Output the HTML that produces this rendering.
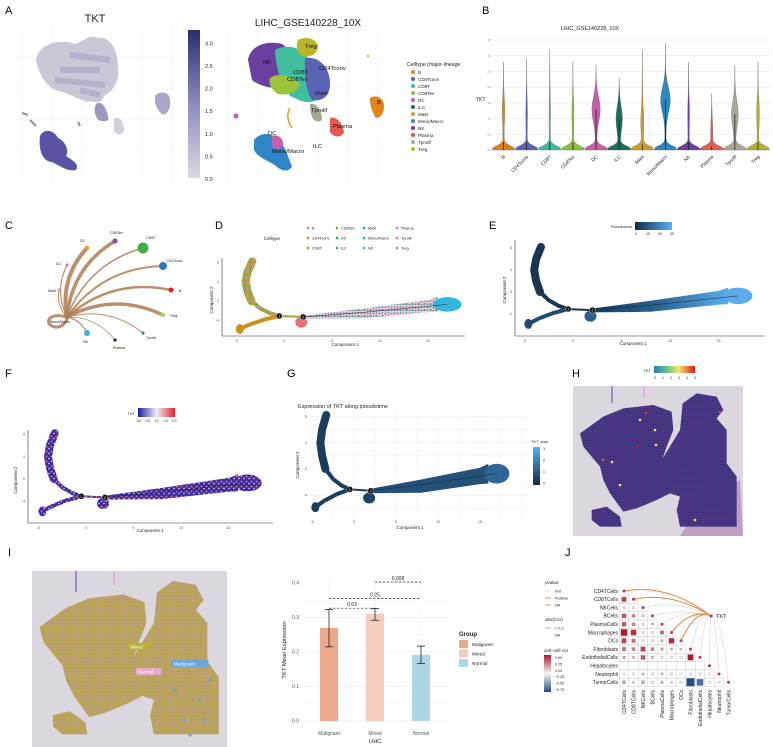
<!DOCTYPE html>
<html><head><meta charset="utf-8"><style>
html,body{margin:0;padding:0;background:#fff;}
svg{display:block;font-family:"Liberation Sans",sans-serif;}
</style></head><body>
<svg id="fig" width="773" height="747" viewBox="0 0 773 747" xmlns="http://www.w3.org/2000/svg">
<defs>
<linearGradient id="gA" x1="0" y1="1" x2="0" y2="0"><stop offset="0" stop-color="#d9d9e0"/><stop offset="0.5" stop-color="#8f8bc0"/><stop offset="1" stop-color="#2b2d6e"/></linearGradient>
<linearGradient id="gE" x1="0" x2="1"><stop offset="0" stop-color="#132b43"/><stop offset="1" stop-color="#56b1f7"/></linearGradient>
<linearGradient id="gF" x1="0" x2="1"><stop offset="0" stop-color="#1a1aa0"/><stop offset="0.5" stop-color="#eeeef5"/><stop offset="1" stop-color="#e0202a"/></linearGradient>
<linearGradient id="gG" x1="0" y1="1" x2="0" y2="0"><stop offset="0" stop-color="#132b43"/><stop offset="1" stop-color="#56b1f7"/></linearGradient>
<linearGradient id="gH" x1="0" x2="1"><stop offset="0" stop-color="#2c7bb6"/><stop offset="0.3" stop-color="#5fc08f"/><stop offset="0.6" stop-color="#f5e66b"/><stop offset="1" stop-color="#d7191c"/></linearGradient>
<linearGradient id="gJ" x1="0" y1="1" x2="0" y2="0"><stop offset="0" stop-color="#1f4f8a"/><stop offset="0.5" stop-color="#f7f7f7"/><stop offset="1" stop-color="#b2182b"/></linearGradient>
<linearGradient id="gEtraj" x1="0" x2="1"><stop offset="0" stop-color="#173a5a"/><stop offset="0.5" stop-color="#2a6597"/><stop offset="1" stop-color="#5aacec"/></linearGradient>
<pattern id="pD" width="6" height="6" patternUnits="userSpaceOnUse"><rect width="6" height="6" fill="#b7a433"/><circle cx="1.5" cy="1.5" r="1.2" fill="#e87ab4"/><circle cx="4.5" cy="4" r="1.1" fill="#4bb54a"/><circle cx="4.5" cy="1" r="0.9" fill="#5c9bd5"/><circle cx="1.5" cy="4.5" r="1" fill="#d98b2a"/></pattern>
<pattern id="pDarm" width="6" height="6" patternUnits="userSpaceOnUse"><rect width="6" height="6" fill="#e9e0ea"/><circle cx="1.5" cy="1.5" r="1.3" fill="#e87ab4"/><circle cx="4.5" cy="4" r="1.3" fill="#4bb54a"/><circle cx="4.5" cy="1" r="1" fill="#5c9bd5"/><circle cx="1.5" cy="4.5" r="1" fill="#9a6ac0"/></pattern>
<pattern id="pF" width="5" height="5" patternUnits="userSpaceOnUse"><rect width="5" height="5" fill="#3a2aa0"/><circle cx="1.5" cy="1.5" r="1" fill="#e8707a"/><circle cx="4" cy="3.5" r="0.9" fill="#c9c3e6"/></pattern>
<pattern id="pH" width="8" height="8" patternUnits="userSpaceOnUse"><rect width="8" height="8" fill="#4a2f84"/><circle cx="2" cy="2" r="1.3" fill="#3e2a78"/><circle cx="6" cy="6" r="1.3" fill="#3e2a78"/><circle cx="6" cy="2" r="1.1" fill="#3cb878"/></pattern>
<pattern id="pI" width="4.5" height="4.5" patternUnits="userSpaceOnUse"><rect width="4.5" height="4.5" fill="#d79cc8"/><circle cx="2.25" cy="2.25" r="1.6" fill="#a9a62a"/></pattern>
<pattern id="pIb" width="9" height="9" patternUnits="userSpaceOnUse"><rect width="9" height="9" fill="#a9a62a"/><circle cx="2" cy="2" r="1.5" fill="#d79cc8"/><circle cx="6.5" cy="6.5" r="1.5" fill="#a9a62a"/></pattern>
<path id="tissue" d="M30,160 L100,110 L160,85 L250,75 L305,95 L310,150 L290,200 L278,235 L330,150 L338,70 L380,40 L440,50 L460,90 L440,115 L470,150 L470,250 L500,290 L500,440 L330,440 L320,390 L330,350 L300,340 L260,360 L200,385 L160,395 L120,340 L100,300 L90,260 L40,200 Z M65,390 L110,380 L150,410 L155,440 L90,440 L65,420 Z"/>
</defs>
<g id="root"></g>
</svg>
<script>
const NS="http://www.w3.org/2000/svg";
const root=document.getElementById('root');
function el(tag,attrs,parent,txt){const e=document.createElementNS(NS,tag);for(const k in attrs)e.setAttribute(k,attrs[k]);if(txt!==undefined)e.textContent=txt;(parent||root).appendChild(e);return e;}
function txt(x,y,s,size,parent,extra){const a={x:x,y:y,'font-size':size,fill:'#222'};if(extra)for(const k in extra)a[k]=extra[k];return el('text',a,parent,s);}

/* ===== panel letters ===== */
const letters=[["A",5,14],["B",482,14],["C",5,229],["D",215,229],["E",489,229],["F",5,377],["G",287,377],["H",572,377],["I",8,556],["J",565,556]];
letters.forEach(l=>{const t=txt(l[1],l[2],l[0],11,root,{fill:'#000'});

});

/* ===== Panel A ===== */
const gA=el('g',{});

for(let i=0;i<6;i++){el('line',{x1:22+i*30,y1:30,x2:22+i*30,y2:178,stroke:'#eee','stroke-width':0.6},gA);el('line',{x1:228+i*30,y1:32,x2:228+i*30,y2:178,stroke:'#eee','stroke-width':0.6},gA);}
for(let i=0;i<4;i++){el('line',{x1:12,y1:57+i*31,x2:175,y2:57+i*31,stroke:'#eee','stroke-width':0.6},gA);el('line',{x1:225,y1:59+i*29,x2:390,y2:59+i*29,stroke:'#eee','stroke-width':0.6},gA);}
txt(95,22,"TKT",11,gA,{'text-anchor':'middle'});
el('path',{d:'M36,60 C38,44 60,38 75,44 C86,40 90,34 98,38 C110,36 118,50 118,68 C120,82 112,92 104,96 C100,106 96,100 88,102 C80,100 70,94 62,92 C50,90 40,80 36,60 Z',fill:'#c9c8d6'},gA);
el('path',{d:'M60,70 L100,70 M55,80 L105,85 M70,55 L110,60 M80,90 L100,95',stroke:'#8a86b8','stroke-width':6,opacity:0.35},gA);
el('path',{d:'M155,96 C160,90 170,92 170,100 C171,110 166,116 162,114 C157,110 154,104 155,96 Z',fill:'#a9a6c8'},gA);
el('path',{d:'M96,104 C102,100 106,108 108,116 C110,122 104,122 98,120 C94,114 94,108 96,104 Z',fill:'#9b98c4'},gA);
el('path',{d:'M114,118 C120,116 124,122 124,130 C122,136 116,136 114,130 Z',fill:'#d0d0d8'},gA);
el('path',{d:'M40,136 C44,128 54,130 58,138 C64,140 70,150 66,156 C72,160 80,164 76,170 C68,172 60,166 52,162 C44,162 38,152 40,136 Z',fill:'#5a52a6'},gA);
el('path',{d:'M22,113 L28,115 M30,120 L36,126 M78,122 L80,126',stroke:'#8f8bc0','stroke-width':2},gA);
el('rect',{x:188,y:30,width:12,height:148,fill:'url(#gA)'},gA);
["0.0","0.5","1.0","1.5","2.0","2.5","3.0"].forEach((s,i)=>txt(205,181-i*22.6,s,5.5,gA));
txt(308,26,"LIHC_GSE140228_10X",10,gA,{'text-anchor':'middle'});
const umapBlobs=[["#6a3fa0","M248,60 C250,46 266,40 282,44 C292,50 290,70 288,86 C280,90 262,88 252,80 Z"],["#3fbfa0","M275,50 C290,42 305,50 310,62 C320,70 322,88 316,100 C306,106 296,98 290,96 C282,86 276,70 275,50 Z"],["#5a62b4","M305,58 C318,56 330,66 330,84 C330,96 322,102 312,100 C306,92 304,74 305,58 Z"],["#b8b52a","M298,40 C305,36 316,38 318,46 C318,54 310,58 302,56 C296,52 296,46 298,40 Z"],["#9cc43a","M270,78 C278,72 292,76 300,84 C298,92 288,96 278,94 C272,90 268,84 270,78 Z"],["#a8a898","M310,104 C316,102 322,110 322,120 C316,124 310,120 310,104 Z"],["#e2564c","M330,118 C336,116 342,122 344,132 C342,138 334,138 330,132 Z"],["#e0861a","M370,98 C376,94 384,98 384,106 C384,114 380,118 376,118 C372,112 370,106 370,98 Z"],["#2f86c6","M254,140 C260,132 272,132 278,140 C286,146 288,158 292,166 C290,172 282,172 276,166 C268,160 258,158 254,150 Z"],["#c65fb0","M272,136 C278,134 284,138 283,146 C280,150 274,150 272,146 Z"]];
umapBlobs.forEach(b=>el('path',{d:b[1],fill:b[0]},gA));
el('path',{d:'M290,108 C286,114 288,122 292,128',stroke:'#e0a020','stroke-width':1.5,fill:'none'},gA);
el('circle',{cx:236,cy:116,r:2.5,fill:'#c65fb0'},gA);el('circle',{cx:368,cy:56,r:1,fill:'#e0861a'},gA);
[["Treg",305,48],["NK",263,64],["CD4Tconv",319,70],["CD8T",293,74],["CD8Tex",287,81],["Mast",315,95],["Tprolif",311,112],["Plasma",333,128],["B",377,104],["DC",268,135],["ILC",313,148],["Mono/Macro",272,153]].forEach(l=>txt(l[1],l[2],l[0],5.8,gA,{fill:'#111'}));
txt(407,66,"Celltype (major-lineage",5.2,gA);
const legA=[["B","#e0861a"],["CD4Tconv","#5a62b4"],["CD8T","#3fbfa0"],["CD8Tex","#8cc43a"],["DC","#c65fb0"],["ILC","#1e6e5e"],["Mast","#d4a020"],["Mono/Macro","#2f86c6"],["NK","#6a3fa0"],["Plasma","#e2564c"],["Tprolif","#a8a898"],["Treg","#b8b52a"]];
legA.forEach((l,i)=>{el('circle',{cx:413,cy:72+i*7,r:2,fill:l[1]},gA);txt(418,74+i*7,l[0],4.6,gA);});

/* ===== Panel B violin ===== */
const vCats=["B","CD4Tconv","CD8T","CD8Tex","DC","ILC","Mast","Mono/Macro","NK","Plasma","Tprolif","Treg"];
const vMax=[2.8,2.9,3.2,2.8,2.7,2.3,3.2,3.4,2.8,1.8,2.7,2.8];
const vMidC=[1.3,1.2,1.3,1.2,1.3,1.0,0.9,1.6,1.2,0.6,1.15,1.2];
const vMidW=[0.8,0.4,0.3,0.6,3.8,2.8,1.0,4.5,0.5,0.6,3.0,1.0];
const vColors=["#d9821a","#5b62b0","#3fb8a0","#8bbf3f","#c85fad","#1e6e5e","#c9a027","#2b87c0","#6b3fa0","#e05f55","#a8a898","#b5b12a"];
const gB=el('g',{});

const bx0=493,bx1=770,vy=v=>150-v*31.4,vx=i=>503.5+i*(254.5/11);
for(let t=0;t<=7;t++){el('line',{x1:bx0,y1:vy(t*0.5),x2:bx1,y2:vy(t*0.5),stroke:'#e6e6e6','stroke-width':0.6},gB);txt(bx0-2,vy(t*0.5)+1,(t*0.5).toFixed(1),2.5,gB,{'text-anchor':'end',fill:'#777'});}
txt(590,30,"LIHC_GSE140228_10X",5.5,gB,{'text-anchor':'middle'});
txt(476,101,"TKT",5,gB);
vCats.forEach((c,i)=>{
 const cx=vx(i);let L=[],R=[];
 for(let k=0;k<=40;k++){const v=vMax[i]*k/40;
  let hw=11*Math.exp(-Math.pow((v-0.03)/0.14,2))+vMidW[i]*Math.exp(-Math.pow((v-vMidC[i])/0.55,2))+0.7*(1-k/40);
  L.push((cx-hw).toFixed(1)+','+vy(v).toFixed(1));R.unshift((cx+hw).toFixed(1)+','+vy(v).toFixed(1));}
 const p=el('path',{d:'M'+L.join(' L')+' L'+R.join(' L')+' Z',fill:vColors[i],stroke:'#555','stroke-width':0.3},gB);
 
 
 el('line',{x1:cx,y1:vy(0),x2:cx,y2:vy(vMidC[i]*(vMidW[i]>2?1:0.2)),stroke:'#222','stroke-width':0.8},gB);
 txt(cx+2,157,c,4.8,gB,{'text-anchor':'end',transform:'rotate(-45 '+(cx+2)+' 157)'});
});

/* ===== Panel C network ===== */
const gC=el('g',{});

const hub=[67,317];
const cNodes=[["DC",87,248,"#f39c12",2.2,4],["CD8Tex",115,241,"#8e44ad",2.5,3.5],["CD8T",143,248,"#3fae49",5.5,1.6],["CD4Tconv",163,266,"#2f78c4",4,2],["B",171,290,"#e02020",2.5,2.5],["Treg",163,315,"#a6d96a",2.2,3.5],["Tprolif",143,333,"#1b9e77",1.6,1],["Plasma",115,340,"#1a237e",1.6,0.8],["NK",87,333,"#4aa8e0",3,1.2],["Mast",59,290,"#c39bd3",1.6,1],["ILC",67,265,"#e377c2",1.6,1.2]];
el('path',{d:'M67,317 C50,312 44,322 52,326 C60,330 68,322 67,317',stroke:'#b07d50','stroke-width':3,fill:'none',opacity:0.85},gC);
cNodes.forEach(n=>{const mx=(hub[0]+n[1])/2,my=(hub[1]+n[2])/2;const dx=n[1]-hub[0],dy=n[2]-hub[1];
 el('path',{d:`M${hub[0]},${hub[1]} Q${mx+dy*0.25},${my-dx*0.25} ${n[1]},${n[2]}`,stroke:'#b07d50','stroke-width':n[5],fill:'none','stroke-linecap':'round',opacity:0.85},gC);});
cNodes.forEach(n=>{el('circle',{cx:n[1],cy:n[2],r:n[4],fill:n[3]},gC);});
[["DC",80,242],["CD8Tex",110,234],["CD8T",146,239],["CD4Tconv",166,262],["B",179,292],["Treg",170,317],["Tprolif",146,339],["Plasma",113,349],["NK",83,343],["Mast",48,292],["ILC",56,265],["Mono/Macro",50,323]].forEach(l=>txt(l[1],l[2],l[0],3.6,gC));

/* ===== trajectory helper ===== */
function traj(g,X,Y,fills,nodes){
 const P=(pts)=>pts.map(p=>X(p[0]).toFixed(1)+','+Y(p[1]).toFixed(1)).join(' L');
 el('path',{d:'M'+P([[-3.3,8.2],[-3.8,6],[-4,4],[-3.8,2],[-3.4,0]]),stroke:fills.up,'stroke-width':8,fill:'none','stroke-linecap':'round'},g);
 el('path',{d:'M'+P([[-3.4,0],[-2.5,-1.5],[-1.5,-2.5],[-0.5,-3.1]]),stroke:fills.up,'stroke-width':4,fill:'none','stroke-linecap':'round'},g);
 el('path',{d:'M'+P([[-0.5,-3.1],[-2,-3.8],[-3.5,-4.8],[-4.4,-5.6]]),stroke:fills.low,'stroke-width':4,fill:'none','stroke-linecap':'round'},g);
 el('ellipse',{cx:X(-4.6),cy:Y(-5.8),rx:4,ry:5,fill:fills.low},g);
 el('path',{d:'M'+P([[-0.5,-3.1],[2,-3.3]]),stroke:fills.up,'stroke-width':2,fill:'none'},g);
 el('ellipse',{cx:X(1.8),cy:Y(-4.4),rx:6,ry:5.5,fill:fills.lobe},g);
 el('path',{d:'M'+P([[2,-3.0],[8,-1.6],[15,0.2],[16,0.8],[16,-2.2],[15,-2.3],[8,-3.6],[2,-3.7]])+' Z',fill:fills.arm},g);
 el('ellipse',{cx:X(17),cy:Y(-0.7),rx:X(18.5)-X(17),ry:Y(-2.2)-Y(-0.7),fill:fills.end},g);
 el('path',{d:'M'+P([[2,-3.3],[8,-2.4],[17,-0.7]]),stroke:'#222','stroke-width':0.5,fill:'none'},g);
 [[-0.5,-3.1,"1"],[2,-3.3,"2"]].forEach(n=>{el('circle',{cx:X(n[0]),cy:Y(n[1]),r:3,fill:'#111',stroke:'#fff','stroke-width':0.4},g);txt(X(n[0]),Y(n[1])+1.5,n[2],3.5,g,{fill:'#fff','text-anchor':'middle'});});
}
function axes(g,X,Y,left,bottom,right,top,xl,yl){
 el('line',{x1:left,y1:bottom,x2:right,y2:bottom,stroke:'#333','stroke-width':0.6},g);
 el('line',{x1:left,y1:top,x2:left,y2:bottom,stroke:'#333','stroke-width':0.6},g);
 [-5,0,5,10,15].forEach(v=>txt(X(v),bottom+6,String(v),3.6,g,{'text-anchor':'middle',fill:'#555'}));
 [8,4,0,-4].forEach(v=>txt(left-3,Y(v)+1.2,String(v),3.6,g,{'text-anchor':'end',fill:'#555'}));
 txt(xl[0],xl[1],"Component 1",4.5,g,{'text-anchor':'middle'});
 txt(yl[0],yl[1],"Component 2",4.5,g,{'text-anchor':'middle',transform:`rotate(-90 ${yl[0]} ${yl[1]})`});
}

/* ===== Panel D ===== */
const gD=el('g',{});

const DX=v=>284+v*9.6,DY=v=>301-v*4.83;
axes(gD,DX,DY,222,336,465,258,[345,346],[213,300]);
traj(gD,DX,DY,{up:'url(#pD)',low:'#d09020',lobe:'#e57373',arm:'url(#pDarm)',end:'#35b5e0'});
txt(280,240,"Celltype",4.5,gD,{'text-anchor':'end'});
const legD=[["B","#f8766d"],["CD4Tconv","#d39200"],["CD8T","#b79f00"],["CD8Tex","#7cae00"],["DC","#00ba38"],["ILC","#00c19f"],["Mast","#00bfc4"],["Mono/Macro","#00a5ff"],["NK","#619cff"],["Plasma","#c77cff"],["Tprolif","#f564e3"],["Treg","#ff61c3"]];
const legDx=[308,337,364,397];
legD.forEach((l,i)=>{const c=Math.floor(i/3),r=i%3;el('circle',{cx:legDx[c],cy:228+r*10,r:1.3,fill:l[1]},gD);txt(legDx[c]+4,229.5+r*10,l[0],3.8,gD);});

/* ===== Panel E ===== */
const gE=el('g',{});

const EX=v=>573+v*9.7,EY=v=>292-v*5.5;
axes(gE,EX,EY,515,336,765,240,[633,345],[506,290]);
traj(gE,EX,EY,{up:'#1a3550',low:'#234a70',lobe:'#2d5f8f',arm:'url(#gEtraj)',end:'#5aacec'});
el('rect',{x:635,y:222,width:37,height:8,fill:'url(#gE)'},gE);
txt(632,228,"Pseudotime",4,gE,{'text-anchor':'end'});
["0","10","20","30"].forEach((s,i)=>txt(636+i*12,235,s,3.6,gE,{'text-anchor':'middle'}));

/* ===== Panel F ===== */
const gF=el('g',{});

const FX=v=>86+v*9.5,FY=v=>479-v*5.58;
axes(gF,FX,FY,28,523,273,430,[150,532],[17,480]);
traj(gF,FX,FY,{up:'url(#pF)',low:'url(#pF)',lobe:'url(#pF)',arm:'url(#pF)',end:'url(#pF)'});
el('rect',{x:138,y:408,width:37,height:9,fill:'url(#gF)'},gF);
txt(135,415,"TKT",4,gF,{'text-anchor':'end'});
["0.0","0.5","1.0","1.5","2.0"].forEach((s,i)=>txt(139+i*8.8,422,s,3.3,gF,{'text-anchor':'middle'}));

/* ===== Panel G ===== */
const gG=el('g',{});

const GX=v=>354+v*8.4,GY=v=>469-v*6.58;
for(let v=-5;v<=20;v+=2.5)el('line',{x1:GX(v),y1:412,x2:GX(v),y2:518,stroke:'#eee','stroke-width':0.6},gG);
for(let v=-6;v<=8;v+=2)el('line',{x1:310,y1:GY(v),x2:528,y2:GY(v),stroke:'#eee','stroke-width':0.6},gG);
[-5,0,5,10,15].forEach(v=>txt(GX(v),523,String(v),3.6,gG,{'text-anchor':'middle',fill:'#555'}));
[8,4,0,-4].forEach(v=>txt(307,GY(v)+1.2,String(v),3.6,gG,{'text-anchor':'end',fill:'#555'}));
txt(410,529,"Component 1",4.5,gG,{'text-anchor':'middle'});
txt(299,465,"Component 2",4.5,gG,{'text-anchor':'middle',transform:'rotate(-90 299 465)'});
txt(298,408,"Expression of TKT along pseudotime",5.5,gG);
traj(gG,GX,GY,{up:'#1c3e5e',low:'#1c3e5e',lobe:'#1d4468',arm:'#24507a',end:'#2d6596'});
el('rect',{x:533,y:447,width:7,height:38,fill:'url(#gG)'},gG);
txt(531,443,"TKT_expr",4,gG);
["3","2","1","0"].forEach((s,i)=>txt(543,450+i*11.5,s,3.5,gG));

/* ===== Panel H ===== */
const gH=el('g',{});

el('rect',{x:573,y:386,width:170,height:150,fill:'#dcd6df'},gH);
el('line',{x1:612,y1:386,x2:612,y2:403,stroke:'#8a4fc0','stroke-width':1.2},gH);
el('line',{x1:644,y1:386,x2:644,y2:398,stroke:'#e0a0e0','stroke-width':1.2},gH);
el('path',{d:'M700,505 L740,480 L743,536 L680,536 Z',fill:'#b078b0',opacity:0.6},gH);
el('use',{href:'#tissue',transform:'translate(570,380) scale(0.3333)',fill:'url(#pH)'},gH);
[[640,420,'#f5e66b'],[655,430,'#f5e66b'],[646,413,'#e04030'],[638,446,'#c0202a'],[603,460,'#e05030'],[612,462,'#f5e66b'],[656,445,'#f5e66b'],[720,412,'#e04030'],[695,520,'#f5e66b'],[620,485,'#f5e66b']].forEach(d=>el('circle',{cx:d[0],cy:d[1],r:1.3,fill:d[2]},gH));
el('rect',{x:654,y:366,width:41,height:7,fill:'url(#gH)'},gH);
txt(651,372,"TKT",4,gH,{'text-anchor':'end'});
["0","1","2","3","4","5"].forEach((s,i)=>txt(655+i*8,379,s,3.3,gH,{'text-anchor':'middle'}));

/* ===== Panel I spatial ===== */
const gI=el('g',{});

el('rect',{x:32,y:571,width:195,height:176,fill:'#dcd6df'},gI);
el('line',{x1:76,y1:571,x2:76,y2:592,stroke:'#8a4fc0','stroke-width':1.2},gI);
el('line',{x1:114,y1:571,x2:114,y2:585,stroke:'#e0a0e0','stroke-width':1.4},gI);
el('use',{href:'#tissue',transform:'translate(28.2,565.7) scale(0.381,0.383)',fill:'url(#pIb)'},gI);
el('use',{href:'#tissue',transform:'translate(28.2,565.7) scale(0.381,0.383)',fill:'url(#pI)',opacity:0.55},gI);
[[200,700],[205,720],[190,735],[175,690],[210,680],[185,720]].forEach(d=>el('circle',{cx:d[0],cy:d[1],r:1.6,fill:'#6aa0d8'},gI));
[["Mixed",128,643,"#b9b52a"],["Normal",136,668,"#e8a8c8"],["Malignant",172,660,"#6aa8dc"]].forEach(l=>{el('rect',{x:l[1],y:l[2],width:l[0].length*3.6+4,height:7,fill:l[3],rx:1},gI);txt(l[1]+2,l[2]+5.5,l[0],4.8,gI,{fill:'#fff'});});

/* ===== Bar chart ===== */
const groups=["Malignant","Mixed","Normal"];
const means=[0.27,0.31,0.192];
const errLo=[0.215,0.292,0.167];
const errHi=[0.323,0.326,0.217];
const yTicks=[0.0,0.1,0.2,0.3,0.4];
const pLabels=["0.63","0.25","0.008"];
const pPairs=[[0,1],[0,2],[1,2]];
const pLevels=[0.327,0.355,0.403];
const barColors=["#eba88b","#f5cdbd","#acd6e3"];
const gBar=el('g',{});

const BY=v=>721-v*345,BX=i=>329+i*46;
for(let v=0;v<=0.451;v+=0.05)el('line',{x1:303,y1:BY(v),x2:448,y2:BY(v),stroke:v*20%2<0.5?'#e6e6e6':'#f2f2f2','stroke-width':0.6},gBar);
groups.forEach((g,i)=>el('line',{x1:BX(i),y1:570,x2:BX(i),y2:721,stroke:'#eee','stroke-width':0.6},gBar));
yTicks.forEach(v=>{const t=txt(299,BY(v)+1.5,v.toFixed(1),5,gBar,{'text-anchor':'end',fill:'#555'});});
txt(286,650,"TKT Mean Expression",5.8,gBar,{'text-anchor':'middle',transform:'rotate(-90 286 650)'});
groups.forEach((g,i)=>{
 const r=el('rect',{x:BX(i)-9,y:BY(means[i]),width:18,height:BY(0)-BY(means[i]),fill:barColors[i]},gBar);
 
 
 el('line',{x1:BX(i),y1:BY(errLo[i]),x2:BX(i),y2:BY(errHi[i]),stroke:'#222','stroke-width':0.8},gBar);
 el('line',{x1:BX(i)-4,y1:BY(errLo[i]),x2:BX(i)+4,y2:BY(errLo[i]),stroke:'#222','stroke-width':0.8},gBar);
 el('line',{x1:BX(i)-4,y1:BY(errHi[i]),x2:BX(i)+4,y2:BY(errHi[i]),stroke:'#222','stroke-width':0.8},gBar);
 txt(BX(i),735,g,5,gBar,{'text-anchor':'middle',fill:'#555'});
});
txt(375,743,"LIHC",5.5,gBar,{'text-anchor':'middle'});
pPairs.forEach((p,k)=>{el('line',{x1:BX(p[0]),y1:BY(pLevels[k]),x2:BX(p[1]),y2:BY(pLevels[k]),stroke:'#333','stroke-width':0.7,'stroke-dasharray':'2.5,1.5'},gBar);
 const t=txt((BX(p[0])+BX(p[1]))/2,BY(pLevels[k])-2,pLabels[k],5,gBar,{'text-anchor':'middle'});
 });
txt(459,636,"Group",6,gBar,{'font-weight':'bold'});
groups.forEach((g,i)=>{el('rect',{x:459,y:640+i*9.5,width:9,height:8,fill:barColors[i]},gBar);txt(472,646+i*9.5,g,4.8,gBar);});

/* ===== Panel J ===== */
const cellNames=["CD4TCells","CD8TCells","NKCells","BCells","PlasmaCells","Macrophages","DCs","Fibroblasts","EndothelialCells","Hepatocytes","Neutrophil","TumorCells"];
const corrRows=[[],[0.45],[0.1,0.02],[0.4,0.3,0.15],[0.4,0.3,0.1,0.2],[0.6,0.5,0.05,0.05,0.35],[0.45,0.35,0.05,0.05,0.2,0.5],[0.35,0.3,0.45,0.3,0.25,0.2,0.15],[0.25,0.2,0.4,0.2,0.02,0.02,0.02,0.55],[0,0,0,0,0,0,0,0,0],[-0.05,-0.05,0.2,0.05,0.2,-0.05,0.0,0.02,0.02,0],[-0.3,-0.15,-0.3,-0.1,-0.25,-0.15,-0.05,-0.75,-0.6,0,-0.05]];
const tktPositive=[1,1,0,0,0,1,1,0,0,0,0,0];
const gJ=el('g',{});

const jx=j=>624+j*9.5,jy=i=>591+i*8.3;
function corrColor(r){const a=[247,247,247],p=[178,24,43],n=[31,79,138];const t=Math.min(1,Math.abs(r)/(r>0?0.55:0.75));const e=r>0?p:n;return `rgb(${a.map((c,k)=>Math.round(c+(e[k]-c)*t)).join(',')})`;}
const tkt=[711,616];
cellNames.forEach((nm,i)=>{
 const ln=el('path',{d:`M${jx(i)},${jy(i)} Q${(jx(i)+tkt[0])/2},${Math.min(jy(i),tkt[1])-8} ${tkt[0]},${tkt[1]}`,stroke:tktPositive[i]?'#e8803a':'#cfcfcf','stroke-width':tktPositive[i]?1:0.5,fill:'none'},gJ);
});
cellNames.forEach((nm,i)=>{
 txt(618,jy(i)+1.8,nm,5,gJ,{'text-anchor':'end'});
 txt(jx(i)+1.8,690,nm,5,gJ,{'text-anchor':'end',transform:`rotate(-90 ${jx(i)+1.8} 690)`});
 corrRows[i].forEach((r,j)=>{
  el('rect',{x:jx(j)-4.75,y:jy(i)-4.15,width:9.5,height:8.3,fill:'none',stroke:'#ccc','stroke-width':0.5},gJ);
  if(i===9)return;
  const s=Math.max(2.2,Math.abs(r)/0.75*8);
  const sq=el('rect',{x:jx(j)-s/2,y:jy(i)-s/2,width:s,height:s,fill:corrColor(r),stroke:'#999','stroke-width':0.3},gJ);
  
  
 });
 el('circle',{cx:jx(i),cy:jy(i),r:1.5,fill:'#c0306a'},gJ);
});
el('circle',{cx:tkt[0],cy:tkt[1],r:1.5,fill:'#c0306a'},gJ);
txt(716,618,"TKT",5.5,gJ);
txt(545,584,"pvalue",4.6,gJ);
[["Not","#ddd"],["Positive","#e8803a"],["NA","#999"]].forEach((l,i)=>{el('line',{x1:545,y1:591+i*7,x2:551,y2:591+i*7,stroke:l[1],'stroke-width':0.8},gJ);txt(555,592.5+i*7,l[0],3.8,gJ);});
txt(545,621,"abs(Cor)",4.6,gJ);
el('line',{x1:545,y1:628,x2:551,y2:628,stroke:'#999','stroke-width':0.8},gJ);txt(555,629.5,"< 0.2",3.8,gJ);txt(555,636.5,"NA",3.8,gJ);
txt(544,652,"cell−cell cor",4.6,gJ);
el('rect',{x:544,y:655,width:7,height:37,fill:'url(#gJ)'},gJ);
["0.50","0.25","0.00","−0.25","−0.50","−0.75"].forEach((s,i)=>txt(555,659+i*6.4,s,3.6,gJ));
</script>
</body></html>
